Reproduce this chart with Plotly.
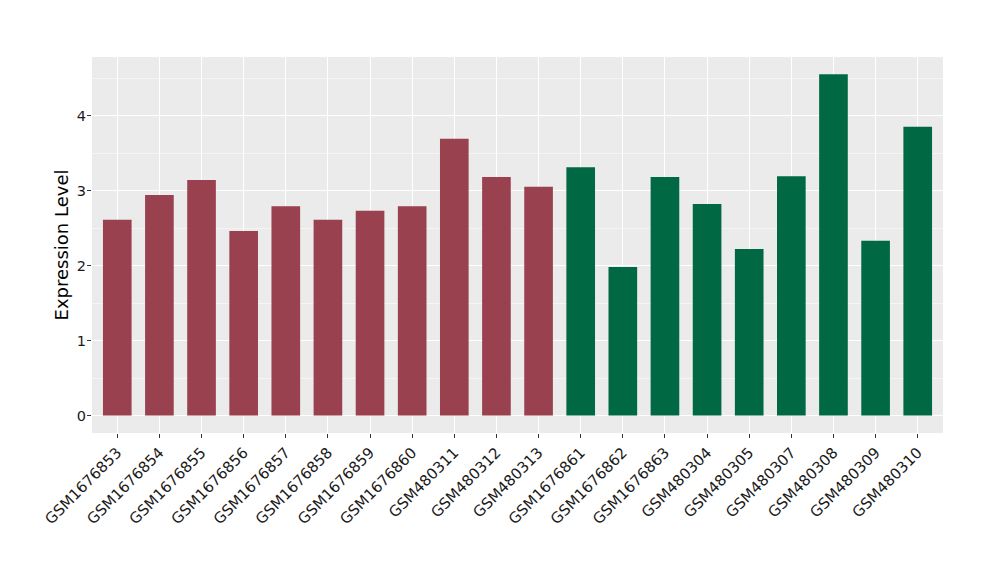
import plotly.graph_objects as go

samples = ["GSM1676853", "GSM1676854", "GSM1676855", "GSM1676856", "GSM1676857",
           "GSM1676858", "GSM1676859", "GSM1676860", "GSM480311", "GSM480312",
           "GSM480313", "GSM1676861", "GSM1676862", "GSM1676863", "GSM480304",
           "GSM480305", "GSM480307", "GSM480308", "GSM480309", "GSM480310"]
values = [2.61, 2.94, 3.14, 2.46, 2.79, 2.61, 2.73, 2.79, 3.69, 3.18,
          3.05, 3.31, 1.98, 3.18, 2.82, 2.22, 3.19, 4.55, 2.33, 3.85]
groups = ["A"] * 11 + ["B"] * 9
group_colors = {"A": "#9a4150", "B": "#016844"}

colors = [group_colors[g] for g in groups]

fig = go.Figure(go.Bar(
    x=samples, y=values, marker=dict(color=colors, line=dict(width=0)),
    width=0.68, showlegend=False,
))

font_family = "DejaVu Sans, sans-serif"
fig.update_layout(
    width=1000, height=580,
    margin=dict(l=84, r=65, t=49, b=155),
    paper_bgcolor="white", plot_bgcolor="#ebebeb",
    font=dict(family=font_family, color="#1a1a1a"),
    bargap=0.3,
)
fig.update_xaxes(
    automargin=False,
    range=[-0.6, 19.6], tickangle=-45, tickfont=dict(size=15, color="#1a1a1a"),
    showgrid=True, gridcolor="white", gridwidth=1.2,
    ticks="outside", ticklen=4, tickcolor="#333333", tickwidth=1,
    showline=False, zeroline=False,
)
fig.update_yaxes(
    automargin=False,
    range=[-0.233, 4.78], tickvals=[0, 1, 2, 3, 4],
    tickfont=dict(size=14.5, color="#1a1a1a"),
    ticklabelstandoff=-2,
    showgrid=True, gridcolor="white", gridwidth=1.2,
    minor=dict(tickvals=[0.5, 1.5, 2.5, 3.5, 4.5], showgrid=True, gridcolor="#f5f5f5", gridwidth=0.6, ticks=""),
    ticks="outside", ticklen=4, tickcolor="#333333", tickwidth=1,
    showline=False, zeroline=False,
    title=dict(text="Expression Level", font=dict(size=18, color="black"), standoff=3),
)

fig.write_html("out.html")
